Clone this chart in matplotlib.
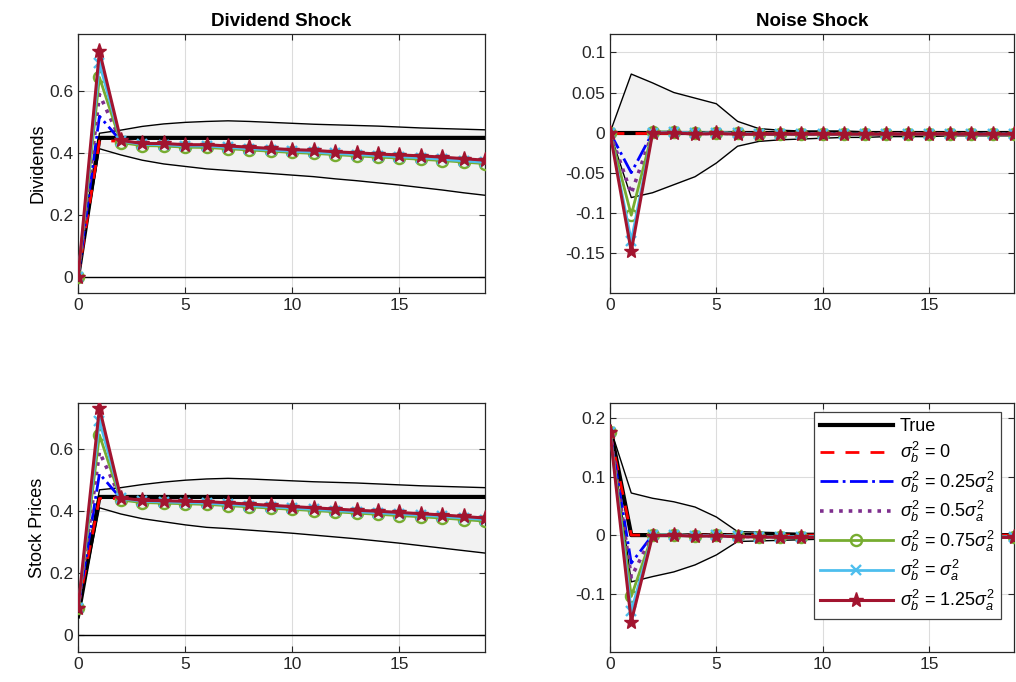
import matplotlib
matplotlib.use("Agg")
import matplotlib.pyplot as plt

plt.rcParams['font.family'] = ['Liberation Sans', 'DejaVu Sans']
plt.rcParams['mathtext.fontset'] = 'custom'
plt.rcParams['mathtext.rm'] = 'Liberation Sans'
plt.rcParams['mathtext.it'] = 'Liberation Sans:italic'

t = list(range(20))

# ---- Dividend shock, dividends ----
div_true = [0, 0.45, 0.45, 0.45, 0.45, 0.45, 0.45, 0.45, 0.45, 0.45,
            0.45, 0.45, 0.45, 0.45, 0.45, 0.45, 0.45, 0.45, 0.45, 0.45]
div_lo = [0, 0.415, 0.395, 0.378, 0.366, 0.358, 0.350, 0.345, 0.340, 0.335,
          0.330, 0.325, 0.318, 0.312, 0.305, 0.298, 0.290, 0.282, 0.273, 0.265]
div_hi = [0, 0.465, 0.475, 0.487, 0.495, 0.500, 0.503, 0.505, 0.503, 0.500,
          0.497, 0.494, 0.492, 0.490, 0.488, 0.485, 0.482, 0.480, 0.478, 0.476]
div_s0 = [0, 0.440, 0.440, 0.430, 0.428, 0.425, 0.424, 0.420, 0.416, 0.412,
          0.408, 0.405, 0.401, 0.397, 0.394, 0.390, 0.387, 0.383, 0.378, 0.373]
div_s25 = [0, 0.520, 0.440, 0.430, 0.428, 0.425, 0.424, 0.420, 0.416, 0.412,
           0.408, 0.405, 0.401, 0.397, 0.394, 0.390, 0.387, 0.383, 0.378, 0.373]
div_s50 = [0, 0.590, 0.440, 0.430, 0.427, 0.424, 0.423, 0.419, 0.415, 0.411,
           0.407, 0.404, 0.400, 0.396, 0.393, 0.389, 0.386, 0.382, 0.377, 0.372]
div_s75 = [0, 0.645, 0.435, 0.425, 0.424, 0.420, 0.419, 0.415, 0.411, 0.407,
           0.403, 0.400, 0.396, 0.392, 0.388, 0.385, 0.381, 0.377, 0.372, 0.367]
div_s100 = [0, 0.690, 0.440, 0.429, 0.428, 0.424, 0.424, 0.419, 0.415, 0.411,
            0.407, 0.404, 0.400, 0.396, 0.393, 0.389, 0.386, 0.381, 0.376, 0.371]
div_s125 = [0, 0.730, 0.442, 0.432, 0.432, 0.428, 0.428, 0.424, 0.420, 0.416,
            0.412, 0.410, 0.405, 0.402, 0.398, 0.395, 0.392, 0.388, 0.383, 0.378]

# ---- Noise shock, dividends ----
nd_true = [0, 0, 0, 0, 0, 0, 0, 0, 0, 0, 0, 0, 0, 0, 0, 0, 0, 0, 0, 0]
nd_lo = [0, -0.081, -0.075, -0.065, -0.055, -0.038, -0.017, -0.011, -0.009, -0.008,
         -0.007, -0.006, -0.006, -0.005, -0.005, -0.005, -0.004, -0.004, -0.004, -0.004]
nd_hi = [0, 0.073, 0.062, 0.050, 0.043, 0.036, 0.014, 0.005, 0.003, 0.002,
         0.002, 0.002, 0.001, 0.001, 0.001, 0.001, 0.001, 0.001, 0.001, 0.001]
nd_s0 = [0, 0, 0, 0, 0, 0, 0, 0, 0, 0, 0, 0, 0, 0, 0, 0, 0, 0, 0, 0]
nd_s25 = [0, -0.050, 0.000, 0.000, -0.001, -0.001, -0.001, -0.002, -0.002, -0.002,
          -0.002, -0.002, -0.002, -0.002, -0.002, -0.002, -0.002, -0.002, -0.002, -0.002]
nd_s50 = [0, -0.076, 0.000, 0.001, -0.001, -0.001, -0.001, -0.002, -0.002, -0.002,
          -0.002, -0.002, -0.002, -0.002, -0.002, -0.002, -0.002, -0.002, -0.002, -0.002]
nd_s75 = [0, -0.103, 0.001, 0.001, -0.001, 0.000, -0.001, -0.002, -0.002, -0.002,
          -0.002, -0.002, -0.002, -0.002, -0.002, -0.002, -0.002, -0.002, -0.002, -0.002]
nd_s100 = [0, -0.135, 0.000, 0.001, -0.001, 0.000, -0.001, -0.002, -0.002, -0.002,
           -0.002, -0.002, -0.002, -0.002, -0.002, -0.002, -0.002, -0.002, -0.002, -0.002]
nd_s125 = [0, -0.148, -0.001, 0.000, -0.002, -0.001, -0.002, -0.002, -0.002, -0.002,
           -0.002, -0.002, -0.002, -0.002, -0.002, -0.002, -0.002, -0.002, -0.002, -0.002]

# ---- Dividend shock, stock prices ----
sp_true = [0.060, 0.445, 0.445, 0.445, 0.445, 0.445, 0.445, 0.445, 0.445, 0.445,
           0.445, 0.445, 0.445, 0.445, 0.445, 0.445, 0.445, 0.445, 0.445, 0.445]
sp_lo = [0.060, 0.410, 0.390, 0.375, 0.365, 0.355, 0.347, 0.343, 0.338, 0.333,
         0.328, 0.322, 0.316, 0.310, 0.303, 0.296, 0.288, 0.280, 0.272, 0.264]
sp_hi = [0.060, 0.468, 0.475, 0.485, 0.493, 0.499, 0.503, 0.505, 0.503, 0.500,
         0.497, 0.494, 0.492, 0.490, 0.487, 0.484, 0.481, 0.479, 0.477, 0.475]
sp_s0 = [0.087, 0.440, 0.440, 0.432, 0.430, 0.428, 0.426, 0.422, 0.418, 0.414,
         0.410, 0.406, 0.402, 0.398, 0.395, 0.391, 0.387, 0.383, 0.378, 0.373]
sp_s25 = [0.087, 0.520, 0.440, 0.432, 0.430, 0.428, 0.426, 0.422, 0.418, 0.414,
          0.410, 0.406, 0.402, 0.398, 0.395, 0.391, 0.387, 0.383, 0.378, 0.373]
sp_s50 = [0.087, 0.590, 0.440, 0.431, 0.429, 0.427, 0.425, 0.421, 0.417, 0.413,
          0.409, 0.405, 0.401, 0.397, 0.394, 0.390, 0.386, 0.382, 0.377, 0.372]
sp_s75 = [0.087, 0.645, 0.435, 0.427, 0.425, 0.423, 0.421, 0.417, 0.413, 0.409,
          0.405, 0.401, 0.397, 0.393, 0.389, 0.385, 0.381, 0.377, 0.372, 0.367]
sp_s100 = [0.087, 0.690, 0.440, 0.431, 0.429, 0.427, 0.425, 0.421, 0.417, 0.413,
           0.409, 0.405, 0.401, 0.397, 0.394, 0.390, 0.386, 0.382, 0.377, 0.372]
sp_s125 = [0.087, 0.732, 0.442, 0.434, 0.433, 0.431, 0.430, 0.426, 0.422, 0.418,
           0.414, 0.410, 0.406, 0.402, 0.399, 0.395, 0.391, 0.387, 0.382, 0.377]

# ---- Noise shock, stock prices ----
ns_true = [0.185, 0, 0, 0, 0, 0, 0, 0, 0, 0, 0, 0, 0, 0, 0, 0, 0, 0, 0, 0]
ns_lo = [0.185, -0.080, -0.071, -0.063, -0.051, -0.034, -0.011, -0.010, -0.009, -0.008,
         -0.007, -0.007, -0.006, -0.006, -0.006, -0.005, -0.005, -0.005, -0.005, -0.005]
ns_hi = [0.185, 0.072, 0.063, 0.057, 0.048, 0.031, 0.006, 0.005, 0.004, 0.003,
         0.003, 0.002, 0.002, 0.002, 0.002, 0.001, 0.001, 0.001, 0.001, 0.001]
ns_s0 = [0.176, 0, 0, 0, 0, 0, 0, 0, 0, 0, 0, 0, 0, 0, 0, 0, 0, 0, 0, 0]
ns_s25 = [0.176, -0.048, 0.000, 0.000, -0.001, -0.001, -0.002, -0.003, -0.003, -0.003,
          -0.003, -0.003, -0.003, -0.003, -0.003, -0.003, -0.003, -0.003, -0.003, -0.003]
ns_s50 = [0.176, -0.072, 0.000, 0.001, -0.001, -0.001, -0.002, -0.003, -0.003, -0.003,
          -0.003, -0.003, -0.003, -0.003, -0.003, -0.003, -0.003, -0.003, -0.003, -0.003]
ns_s75 = [0.176, -0.105, 0.001, 0.001, -0.001, 0.000, -0.002, -0.003, -0.003, -0.003,
          -0.003, -0.003, -0.003, -0.003, -0.003, -0.003, -0.003, -0.003, -0.003, -0.003]
ns_s100 = [0.176, -0.130, 0.000, 0.001, -0.001, 0.000, -0.002, -0.003, -0.003, -0.003,
           -0.003, -0.003, -0.003, -0.003, -0.003, -0.003, -0.003, -0.003, -0.003, -0.003]
ns_s125 = [0.176, -0.148, -0.001, 0.000, -0.002, -0.001, -0.003, -0.003, -0.004, -0.004,
           -0.004, -0.004, -0.004, -0.004, -0.004, -0.004, -0.004, -0.004, -0.004, -0.004]

labels = ['True', r'$\sigma_b^2$ = 0', r'$\sigma_b^2$ = 0.25$\sigma_a^2$',
          r'$\sigma_b^2$ = 0.5$\sigma_a^2$', r'$\sigma_b^2$ = 0.75$\sigma_a^2$',
          r'$\sigma_b^2$ = $\sigma_a^2$', r'$\sigma_b^2$ = 1.25$\sigma_a^2$']

styles = [
    dict(color='black', lw=3.0, ls='-'),
    dict(color='#FF0000', lw=2.0, ls=(0, (5, 4))),
    dict(color='#0000FF', lw=2.0, ls='-.'),
    dict(color='#7E2F8E', lw=2.6, ls=':'),
    dict(color='#77AC30', lw=2.0, ls='-', marker='o', ms=8, mfc='none', mew=1.7),
    dict(color='#4DBEEE', lw=2.0, ls='-', marker='x', ms=7, mew=1.7),
    dict(color='#A2142F', lw=2.2, ls='-', marker='*', ms=11),
]

panels = [
    dict(pos=[0.0768, 0.5704, 0.4006, 0.3798], ylim=(-0.05, 0.785),
         yticks=[0, 0.2, 0.4, 0.6], yfmt=['0', '0.2', '0.4', '0.6'],
         band=(div_lo, div_hi), series=[div_true, div_s0, div_s25, div_s50, div_s75, div_s100, div_s125],
         title='Dividend Shock', ylabel='Dividends', zero=True),
    dict(pos=[0.6004, 0.5704, 0.3976, 0.3798], ylim=(-0.2, 0.123),
         yticks=[-0.15, -0.1, -0.05, 0, 0.05, 0.1], yfmt=['-0.15', '-0.1', '-0.05', '0', '0.05', '0.1'],
         band=(nd_lo, nd_hi), series=[nd_true, nd_s0, nd_s25, nd_s50, nd_s75, nd_s100, nd_s125],
         title='Noise Shock', ylabel=None, zero=False),
    dict(pos=[0.0768, 0.0440, 0.4006, 0.3651], ylim=(-0.055, 0.748),
         yticks=[0, 0.2, 0.4, 0.6], yfmt=['0', '0.2', '0.4', '0.6'],
         band=(sp_lo, sp_hi), series=[sp_true, sp_s0, sp_s25, sp_s50, sp_s75, sp_s100, sp_s125],
         title=None, ylabel='Stock Prices', zero=True),
    dict(pos=[0.6004, 0.0440, 0.3976, 0.3651], ylim=(-0.2, 0.226),
         yticks=[-0.1, 0, 0.1, 0.2], yfmt=['-0.1', '0', '0.1', '0.2'],
         band=(ns_lo, ns_hi), series=[ns_true, ns_s0, ns_s25, ns_s50, ns_s75, ns_s100, ns_s125],
         title=None, ylabel=None, zero=False),
]

fig = plt.figure(figsize=(10.16, 6.82), dpi=100)

for i, p in enumerate(panels):
    ax = fig.add_axes(p['pos'])
    lo, hi = p['band']
    ax.fill_between(t, lo, hi, color='#f2f2f2', lw=0, zorder=1)
    ax.plot(t, lo, color='black', lw=1.0, zorder=2)
    ax.plot(t, hi, color='black', lw=1.0, zorder=2)
    if p['zero']:
        ax.axhline(0, color='black', lw=1.0, zorder=2)
    handles = []
    for s, st, lab in zip(p['series'], styles, labels):
        h, = ax.plot(t, s, label=lab, zorder=3, **st)
        handles.append(h)
    ax.set_xlim(0, 19)
    ax.set_ylim(*p['ylim'])
    ax.set_xticks([0, 5, 10, 15])
    ax.set_yticks(p['yticks'])
    ax.set_yticklabels(p['yfmt'])
    ax.grid(True, color='#dcdcdc', lw=0.8)
    ax.set_axisbelow(True)
    ax.tick_params(direction='in', labelsize=12.5, length=4, color='#262626',
                   labelcolor='#262626', top=True, right=True)
    for sp in ax.spines.values():
        sp.set_color('#262626')
        sp.set_linewidth(0.9)
    if p['title']:
        ax.set_title(p['title'], fontsize=13.5, fontweight='bold', pad=6)
    if p['ylabel']:
        ax.set_ylabel(p['ylabel'], fontsize=13, labelpad=2)
    if i == 3:
        leg = ax.legend(handles=handles, loc='upper right', fontsize=13,
                        bbox_to_anchor=(0.99, 1.0), fancybox=False, framealpha=1,
                        edgecolor='#404040', handlelength=4.0, labelspacing=0.25,
                        borderpad=0.35, handletextpad=0.4)
        leg.get_frame().set_linewidth(0.9)

fig.savefig('out.png', dpi=100)
